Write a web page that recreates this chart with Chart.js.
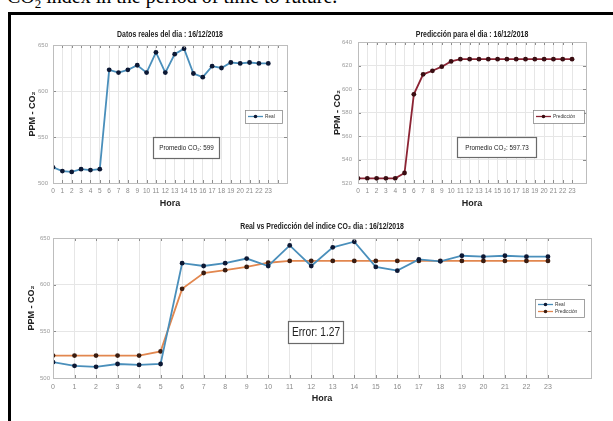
<!DOCTYPE html>
<html lang="es">
<head>
<meta charset="UTF-8">
<title>PPM - CO2</title>
<script src="https://cdn.jsdelivr.net/npm/chart.js"></script>
<style>
body { margin: 0; background: #fff; width: 613px; height: 421px; overflow: hidden; position: relative; }
.caption { position: absolute; left: 7px; top: -15px; font: 20px 'Liberation Serif', 'Times New Roman', serif; color: #000; white-space: nowrap; }
.caption sub { font-size: 13px; }
.frame { position: absolute; left: 8px; top: 12px; width: 620px; height: 420px; border-top: 3px solid #000; border-left: 3px solid #000; }
canvas { position: absolute; }
</style>
</head>
<body>
<div class="caption">CO<sub>2</sub> index in the period of time to future.</div>
<div class="frame"></div>
<canvas id="real-chart" width="292" height="196" style="left:12px; top:16px;"></canvas>
<canvas id="pred-chart" width="300" height="196" style="left:304px; top:16px;"></canvas>
<canvas id="both-chart" width="596" height="205" style="left:12px; top:212px;"></canvas>

<script>
// horas del dia
const hours = [0, 1, 2, 3, 4, 5, 6, 7, 8, 9, 10, 11, 12, 13, 14, 15, 16, 17, 18, 19, 20, 21, 22, 23];
const gridHours = [0, 1, 2, 3, 4, 5, 6, 7, 8, 9, 10, 11, 12, 13, 14, 15, 16, 17, 18, 19, 20, 21, 22, 23, 24, 25];

// PPM CO2 medidos y predichos
const real = [517, 513, 512, 515, 514, 515, 623, 620, 623, 628, 620, 642, 620, 640, 646, 619, 615, 627, 625, 631, 630, 631, 630, 630];
const pred = [524, 524, 524, 524, 524, 528.5, 595.5, 612.5, 615.5, 619, 623.5, 625.4, 625.4, 625.4, 625.4, 625.4, 625.4, 625.4, 625.4, 625.4, 625.4, 625.4, 625.4, 625.4];

const yTicksReal = [500, 550, 600, 650];
const yTicksPred = [520, 540, 560, 580, 600, 620, 640];

const FONT = "'Liberation Sans', Arial, sans-serif";

function squishText(ctx, text, x, y, font, color, sx, align) {
    ctx.save();
    ctx.translate(x, y);
    ctx.scale(sx, 1);
    ctx.font = font;
    ctx.fillStyle = color;
    ctx.textAlign = align || 'center';
    ctx.textBaseline = 'middle';
    ctx.fillText(text, 0, 0);
    ctx.restore();
}

// titulo, caja de ejes, leyenda y cuadro de texto estilo matlab
const deco = {
    id: 'deco',
    afterDraw(chart, args, opts) {
        const ctx = chart.ctx;
        const a = chart.chartArea;
        ctx.save();

        // marcas hacia adentro
        ctx.strokeStyle = '#8c8c8c';
        ctx.lineWidth = 1;
        chart.scales.x.ticks.forEach(t => {
            const px = Math.round(chart.scales.x.getPixelForValue(t.value)) + 0.5;
            ctx.beginPath();
            ctx.moveTo(px, a.top); ctx.lineTo(px, a.top + 3);
            ctx.moveTo(px, a.bottom); ctx.lineTo(px, a.bottom - 3);
            ctx.stroke();
        });
        chart.scales.y.ticks.forEach(t => {
            const py = Math.round(chart.scales.y.getPixelForValue(t.value)) + 0.5;
            ctx.beginPath();
            ctx.moveTo(a.left, py); ctx.lineTo(a.left + 3, py);
            ctx.moveTo(a.right, py); ctx.lineTo(a.right - 3, py);
            ctx.stroke();
        });

        ctx.strokeStyle = '#bdbdbd';
        ctx.strokeRect(Math.round(a.left) + 0.5, Math.round(a.top) + 0.5, Math.round(a.width), Math.round(a.height));

        squishText(ctx, opts.title, (a.left + a.right) / 2, opts.titleY, 'bold 9px ' + FONT, '#222', 0.77);

        // leyenda
        const lg = opts.legend;
        ctx.fillStyle = '#fff';
        ctx.fillRect(lg.x, lg.y, lg.w, lg.h);
        ctx.strokeStyle = '#8a8a8a';
        ctx.lineWidth = 0.8;
        ctx.strokeRect(lg.x + 0.5, lg.y + 0.5, lg.w, lg.h);
        const ds = chart.data.datasets;
        const rowH = (lg.h - 4) / ds.length;
        ds.forEach((d, i) => {
            const cy = lg.y + 2 + rowH * (i + 0.5);
            ctx.strokeStyle = d.borderColor;
            ctx.lineWidth = 1.3;
            ctx.beginPath();
            ctx.moveTo(lg.x + 3, cy); ctx.lineTo(lg.x + 18, cy);
            ctx.stroke();
            ctx.fillStyle = d.pointBackgroundColor;
            ctx.beginPath();
            ctx.arc(lg.x + 10.5, cy, 1.8, 0, Math.PI * 2);
            ctx.fill();
            squishText(ctx, d.label, lg.x + 20, cy, '5px ' + FONT, '#333', 0.95, 'left');
        });

        // cuadro de texto
        const nt = opts.note;
        ctx.fillStyle = '#fff';
        ctx.fillRect(nt.x, nt.y, nt.w, nt.h);
        ctx.strokeStyle = '#6a6a6a';
        ctx.lineWidth = 1.2;
        ctx.strokeRect(nt.x + 0.5, nt.y + 0.5, nt.w, nt.h);
        squishText(ctx, nt.text, nt.x + nt.w / 2 + 0.5, nt.y + nt.h / 2 + 1, nt.size + 'px ' + FONT, '#222', nt.sx);

        ctx.restore();
    }
};

function series(label, values, line, marker) {
    return {
        label: label,
        data: hours.map((h, i) => ({ x: h, y: values[i] })),
        borderColor: line,
        backgroundColor: line,
        borderWidth: 1.8,
        pointRadius: 2.4,
        pointBackgroundColor: marker,
        pointBorderColor: marker,
        pointBorderWidth: 0,
        tension: 0
    };
}

function makeChart(id, cfg) {
    return new Chart(document.getElementById(id), {
        type: 'line',
        data: { datasets: cfg.datasets },
        options: {
            responsive: false,
            animation: false,
            layout: { padding: { top: cfg.padTop, right: cfg.padRight, left: 0, bottom: 0 } },
            plugins: {
                legend: { display: false },
                tooltip: { enabled: false },
                deco: cfg.deco
            },
            scales: {
                x: {
                    type: 'linear',
                    min: 0,
                    max: cfg.xMax,
                    afterBuildTicks: s => { s.ticks = cfg.xTicks.map(v => ({ value: v })); },
                    afterFit: s => { s.height = cfg.xHeight; },
                    grid: { color: '#e6e6e6', drawTicks: false },
                    border: { color: '#bdbdbd' },
                    ticks: {
                        padding: cfg.xPad,
                        color: '#8a8a8a',
                        autoSkip: false,
                        maxRotation: 0,
                        font: { size: cfg.xFont, family: FONT },
                        callback: v => hours.includes(v) ? String(v) : ''
                    },
                    title: {
                        display: true, text: 'Hora', color: '#222',
                        font: { size: 9, weight: 'bold', family: FONT },
                        padding: { top: 0, bottom: cfg.xTitlePad }
                    }
                },
                y: {
                    min: cfg.yTicks[0],
                    max: cfg.yTicks[cfg.yTicks.length - 1],
                    afterBuildTicks: s => { s.ticks = cfg.yTicks.map(v => ({ value: v })); },
                    afterFit: s => { s.width = cfg.yWidth; },
                    grid: { color: '#e6e6e6', drawTicks: false },
                    border: { color: '#bdbdbd' },
                    ticks: { padding: cfg.yPad, color: '#9a9a9a', font: { size: 6, family: FONT } },
                    title: {
                        display: true, text: 'PPM - CO₂', color: '#222',
                        font: { size: 9, weight: 'bold', family: FONT },
                        padding: { top: cfg.yTitlePad, bottom: 0 }
                    }
                }
            }
        },
        plugins: [deco]
    });
}

makeChart('real-chart', {
    datasets: [series('Real', real, '#4a8fbb', '#0c1834')],
    padTop: 29, padRight: 17, xMax: 25, xTicks: gridHours, xHeight: 29, xPad: 4.5, xFont: 6.5, xTitlePad: 3,
    yTicks: yTicksReal, yWidth: 41, yPad: 5, yTitlePad: 15.5,
    deco: {
        title: 'Datos reales del dia : 16/12/2018', titleY: 19,
        legend: { x: 233, y: 94, w: 37, h: 13 },
        note: { text: 'Promedio CO₂: 599', x: 141, y: 121, w: 66, h: 21, size: 7, sx: 0.9 }
    }
});

makeChart('pred-chart', {
    datasets: [series('Predicción', pred, '#8c2434', '#3a0d12')],
    padTop: 26, padRight: 18, xMax: 24.5, xTicks: hours, xHeight: 29, xPad: 4.5, xFont: 6.5, xTitlePad: 3,
    yTicks: yTicksPred, yWidth: 54, yPad: 6, yTitlePad: 28.5,
    deco: {
        title: 'Predicción para el dia : 16/12/2018', titleY: 19,
        legend: { x: 229, y: 94, w: 51, h: 13 },
        note: { text: 'Promedio CO₂: 597.73', x: 153, y: 121, w: 79, h: 20, size: 7, sx: 0.9 }
    }
});

makeChart('both-chart', {
    datasets: [
        series('Real', real, '#4a8fbb', '#0c1834'),
        series('Predicción', pred, '#e2874f', '#3a1c10')
    ],
    padTop: 26, padRight: 17, xMax: 25, xTicks: hours, xHeight: 39, xPad: 5, xFont: 7, xTitlePad: 13.5,
    yTicks: yTicksReal, yWidth: 41, yPad: 3, yTitlePad: 14.5,
    deco: {
        title: 'Real vs Predicción del indice CO₂ dia : 16/12/2018', titleY: 15,
        legend: { x: 523, y: 87, w: 49, h: 18 },
        note: { text: 'Error: 1.27', x: 276, y: 109, w: 55, h: 22, size: 12, sx: 0.85 }
    }
});
</script>
</body>
</html>
